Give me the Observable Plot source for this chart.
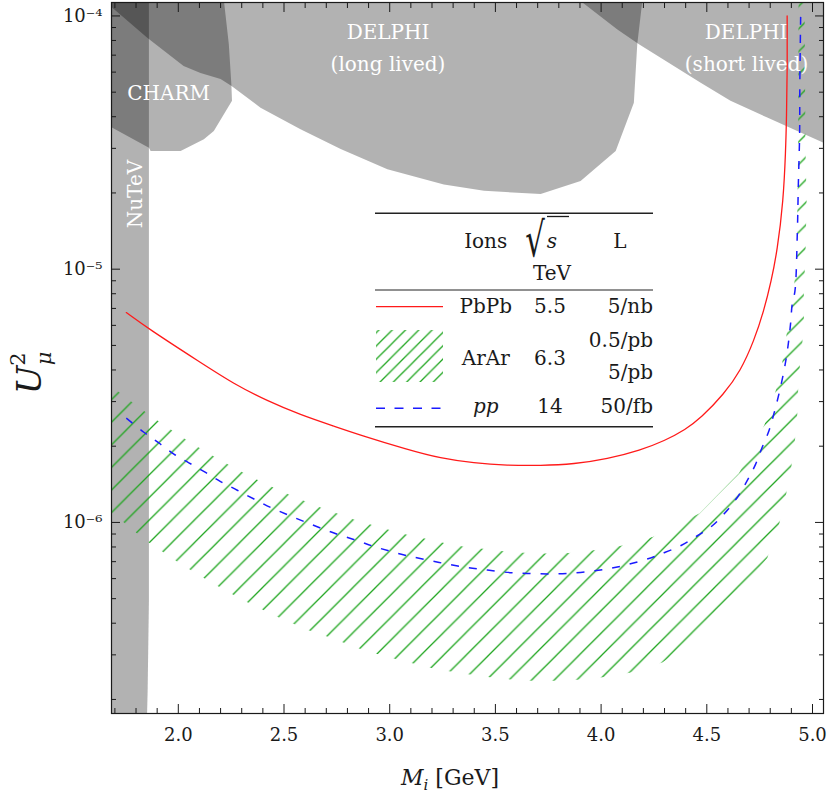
<!DOCTYPE html>
<html><head><meta charset="utf-8">
<script src="https://cdn.jsdelivr.net/npm/d3@7"></script>
<script src="https://cdn.jsdelivr.net/npm/@observablehq/plot@0.6"></script>
<style>
body{margin:0;background:#fff;}
#chart{width:830px;height:796px;}
</style></head><body><div id="chart"></div>
<script>
// ---------- data ----------
// PbPb, 5.5 TeV, 5/nb  (red solid)
const pbpbMass = [1.754,1.861,2.105,2.263,2.421,2.578,2.736,2.862,3.083,3.241,3.398,3.556,3.714,3.872,4.029,4.187,4.300,4.400,4.471,4.581,4.660,4.723,4.770,4.805,4.833,4.862,4.873,4.877,4.881,4.880];
const pbpbU2 = [6.74e-6,5.80e-6,4.28e-6,3.52e-6,3.02e-6,2.66e-6,2.40e-6,2.21e-6,1.94e-6,1.79e-6,1.715e-6,1.68e-6,1.676e-6,1.70e-6,1.78e-6,1.93e-6,2.10e-6,2.33e-6,2.58e-6,3.21e-6,3.97e-6,5.21e-6,6.85e-6,8.99e-6,1.18e-5,1.86e-5,2.93e-5,3.96e-5,6.25e-5,1.0e-4];

// pp, 14 TeV, 50/fb (blue dashed)
const ppMass = [1.754,1.837,1.908,1.979,2.050,2.129,2.200,2.279,2.358,2.437,2.516,2.594,2.673,2.760,2.847,2.925,3.004,3.083,3.178,3.272,3.367,3.462,3.556,3.651,3.745,3.840,3.935,4.029,4.124,4.234,4.281,4.376,4.455,4.526,4.581,4.644,4.691,4.731,4.762,4.794,4.817,4.841,4.865,4.881,4.896,4.904,4.917,4.928,4.933,4.939,4.940,4.944];
const ppU2 = [2.58e-6,2.27e-6,2.06e-6,1.86e-6,1.72e-6,1.575e-6,1.45e-6,1.34e-6,1.237e-6,1.146e-6,1.073e-6,1.009e-6,9.5e-7,8.94e-7,8.47e-7,8.04e-7,7.69e-7,7.39e-7,7.11e-7,6.85e-7,6.64e-7,6.49e-7,6.35e-7,6.29e-7,6.26e-7,6.29e-7,6.39e-7,6.55e-7,6.81e-7,7.24e-7,7.50e-7,8.09e-7,8.86e-7,9.70e-7,1.079e-6,1.255e-6,1.461e-6,1.70e-6,1.98e-6,2.30e-6,2.68e-6,3.21e-6,3.97e-6,4.76e-6,6.07e-6,7.28e-6,8.21e-6,1.375e-5,2.16e-5,3.41e-5,5.37e-5,1.0e-4];

// ArAr, 6.3 TeV band: 0.5/pb (upper edge) and 5/pb (lower edge)
const arUpperMass = [1.684,1.722,1.782,1.843,1.907,1.971,2.034,2.101,2.169,2.236,2.306,2.376,2.449,2.523,2.597,2.673,2.752,2.831,2.913,2.996,3.078,3.165,3.253,3.346,3.441,3.537,3.635,3.736,3.848,3.966,4.095,4.244,4.466,4.652,4.773,4.825,4.857,4.876,4.900,4.915,4.925,4.929,4.932,4.934];
const arUpperU2 = [3.45e-6,3.26e-6,2.98e-6,2.735e-6,2.51e-6,2.305e-6,2.13e-6,1.968e-6,1.822e-6,1.692e-6,1.575e-6,1.47e-6,1.374e-6,1.29e-6,1.215e-6,1.146e-6,1.085e-6,1.028e-6,9.79e-7,9.36e-7,8.97e-7,8.65e-7,8.32e-7,8.04e-7,7.87e-7,7.69e-7,7.59e-7,7.54e-7,7.58e-7,7.76e-7,8.09e-7,8.75e-7,1.087e-6,1.564e-6,2.43e-6,3.29e-6,4.28e-6,5.45e-6,7.10e-6,8.99e-6,1.18e-5,1.86e-5,2.93e-5,1.2e-4];
const arLowerMass = [4.962,4.967,4.972,4.967,4.959,4.959,4.952,4.940,4.932,4.928,4.917,4.900,4.876,4.843,4.786,4.660,4.518,4.376,4.289,4.136,4.006,3.887,3.777,3.670,3.572,3.474,3.379,3.288,3.197,3.112,3.028,2.941,2.862,2.780,2.697,2.616,2.547,2.473,2.402,2.329,2.260,2.192,2.124,2.058,1.992,1.929,1.864,1.804,1.744,1.684];
const arLowerU2 = [1.2e-4,2.93e-5,1.86e-5,1.18e-5,7.99e-6,6.37e-6,5.12e-6,4.15e-6,3.31e-6,2.68e-6,2.11e-6,1.66e-6,1.30e-6,9.91e-7,7.24e-7,5.37e-7,3.91e-7,3.12e-7,2.80e-7,2.55e-7,2.445e-7,2.39e-7,2.37e-7,2.37e-7,2.40e-7,2.445e-7,2.51e-7,2.58e-7,2.66e-7,2.77e-7,2.89e-7,3.02e-7,3.165e-7,3.36e-7,3.56e-7,3.75e-7,3.97e-7,4.22e-7,4.51e-7,4.83e-7,5.18e-7,5.57e-7,6.01e-7,6.49e-7,7.02e-7,7.63e-7,8.29e-7,9.07e-7,9.97e-7,1.092e-6];

// excluded regions (outlines)
const nutevMass = [1.60,1.60,1.861,1.861,1.855,1.845];
const nutevU2 = [1.0e-7,2.0e-4,2.0e-4,4.91e-7,2.17e-7,1.0e-7];
const charmMass = [1.60,2.18,2.216,2.239,2.251,2.254,2.168,2.121,2.011,1.869,1.861,1.688,1.60];
const charmU2 = [2.0e-4,2.0e-4,1.145e-4,7.73e-5,5.37e-5,4.62e-5,3.51e-5,3.26e-5,2.93e-5,2.93e-5,3.02e-5,3.62e-5,3.97e-5];
const delphiLongMass = [1.60,1.632,1.688,1.853,2.025,2.105,2.200,2.252,2.389,2.578,2.768,2.989,3.256,3.446,3.714,3.903,4.069,4.155,4.171,4.195,4.20];
const delphiLongU2 = [1.3e-4,1.18e-4,1.077e-4,8.20e-5,6.34e-5,5.95e-5,5.63e-5,5.29e-5,4.34e-5,3.57e-5,2.98e-5,2.48e-5,2.16e-5,2.04e-5,1.98e-5,2.23e-5,2.93e-5,4.54e-5,7.73e-5,1.145e-4,1.3e-4];
const delphiShortMass = [3.842,4.077,4.179,4.471,4.612,4.786,4.928,5.052,5.10,5.10];
const delphiShortU2 = [1.253e-4,8.85e-5,7.73e-5,5.45e-5,4.62e-5,3.97e-5,3.51e-5,3.16e-5,3.0e-5,1.3e-4];

// region labels
const labelText = ["DELPHI","(long lived)","DELPHI","(short lived)","CHARM"];
const labelMass = [2.992,2.992,4.686,4.688,1.954];
const labelU2 = [8.6e-5,6.45e-5,8.6e-5,6.45e-5,4.94e-5];
const nutevLabel = {text:"NuTeV", m:1.798, u:1.98e-5};

// axes
const xMajor = [2.0,2.5,3.0,3.5,4.0,4.5,5.0];
const xMinor = [1.7,1.8,1.9,2.1,2.2,2.3,2.4,2.6,2.7,2.8,2.9,3.1,3.2,3.3,3.4,3.6,3.7,3.8,3.9,4.1,4.2,4.3,4.4,4.6,4.7,4.8,4.9];
const yMajor = [1e-6,1e-5,1e-4];
const yMajorText = ["10\u207B\u2076","10\u207B\u2075","10\u207B\u2074"];
const yMinor = [2e-7,3e-7,4e-7,5e-7,6e-7,7e-7,8e-7,9e-7,2e-6,3e-6,4e-6,5e-6,6e-6,7e-6,8e-6,9e-6,2e-5,3e-5,4e-5,5e-5,6e-5,7e-5,8e-5,9e-5];

// legend table
const legIons = ["PbPb","ArAr","pp"];
const legSqrtS = ["5.5","6.3","14"];
const legLumi = [["5/nb"],["0.5/pb","5/pb"],["50/fb"]];

// ---------- tables ----------
const zip = (ms, us) => ms.map((m, i) => ({m, u: us[i]}));
const pbpb = zip(pbpbMass, pbpbU2);
const pp = zip(ppMass, ppU2);
const arBand = zip(arUpperMass.concat(arLowerMass), arUpperU2.concat(arLowerU2));
const nutev = zip(nutevMass, nutevU2);
const charm = zip(charmMass, charmU2);
const delphiLong = zip(delphiLongMass, delphiLongU2);
const delphiShort = zip(delphiShortMass, delphiShortU2);
const labels = labelText.map((t, i) => ({text: t, m: labelMass[i], u: labelU2[i]}));

const FONT = '"DejaVu Serif", serif';
const INK = "#1a1a1a";
const RED = "#ff1a1a", BLUE = "#1a1aff", GREEN = "#1ea51e";
const region = (data) => Plot.line(data, {x: "m", y: "u", fill: "black", fillOpacity: 0.3, stroke: "none", clip: true, curve: "linear"});

const svgEl = Plot.plot({
  width: 830, height: 796,
  marginLeft: 111, marginRight: 7, marginTop: 2, marginBottom: 83,
  style: {fontFamily: FONT, fontSize: "18px", color: INK, background: "white"},
  x: {domain: [1.684, 5.052]},
  y: {type: "log", domain: [1.76e-7, 1.13e-4]},
  marks: [
    region(nutev), region(charm), region(delphiLong), region(delphiShort),
    Plot.line(arBand, {x: "m", y: "u", fill: "url(#hatch)", stroke: "none", clip: true}),
    Plot.line(pbpb, {x: "m", y: "u", stroke: RED, strokeWidth: 1.3, curve: "basis", clip: true}),
    Plot.line(pp, {x: "m", y: "u", stroke: BLUE, strokeWidth: 1.5, strokeDasharray: "8,10", strokeLinecap: "butt", curve: "catmull-rom", clip: true}),
    Plot.text(labels, {x: "m", y: "u", text: "text", fill: "white", fontSize: 20, fontFamily: FONT}),
    Plot.text([nutevLabel], {x: "m", y: "u", text: "text", fill: "white", fontSize: 20, rotate: -90, fontFamily: FONT}),
    Plot.frame({stroke: INK, strokeWidth: 1.2}),
    // inward ticks on all four sides
    Plot.axisX({anchor: "bottom", ticks: xMajor, tickSize: 9, dy: -9, fill: "none", label: null, stroke: INK}),
    Plot.axisX({anchor: "bottom", ticks: xMinor, tickSize: 5, dy: -5, fill: "none", label: null, stroke: INK}),
    Plot.axisX({anchor: "top", ticks: xMajor, tickSize: 9, dy: 9, fill: "none", label: null, stroke: INK}),
    Plot.axisX({anchor: "top", ticks: xMinor, tickSize: 5, dy: 5, fill: "none", label: null, stroke: INK}),
    Plot.axisY({anchor: "left", ticks: yMajor, tickSize: 9, dx: 9, fill: "none", label: null, stroke: INK}),
    Plot.axisY({anchor: "left", ticks: yMinor, tickSize: 5, dx: 5, fill: "none", label: null, stroke: INK}),
    Plot.axisY({anchor: "right", ticks: yMajor, tickSize: 9, dx: -9, fill: "none", label: null, stroke: INK}),
    Plot.axisY({anchor: "right", ticks: yMinor, tickSize: 5, dx: -5, fill: "none", label: null, stroke: INK}),
    // tick labels
    Plot.axisX({anchor: "bottom", ticks: xMajor, tickSize: 0, tickPadding: 15, tickFormat: d => d.toFixed(1), fontSize: 18, label: null, fill: INK}),
    Plot.axisY({anchor: "left", ticks: yMajor, tickSize: 0, tickPadding: 9, tickFormat: d => yMajorText[yMajor.indexOf(d)], fontSize: 18, label: null, fill: INK})
  ]
});
document.getElementById("chart").appendChild(svgEl);

const svg = d3.select(svgEl);
const defs = svg.insert("defs", ":first-child");
const hatch = defs.append("pattern").attr("id", "hatch").attr("patternUnits", "userSpaceOnUse")
  .attr("width", 22.6).attr("height", 22.6).attr("patternTransform", "translate(12.9,0)");
hatch.append("path").attr("d", "M-2,2L2,-2M0,22.6L22.6,0M20.6,24.6L24.6,20.6")
  .attr("stroke", GREEN).attr("stroke-width", 1.3).attr("fill", "none");
const hatch2 = defs.append("pattern").attr("id", "hatch2").attr("patternUnits", "userSpaceOnUse")
  .attr("width", 13.3).attr("height", 13.3).attr("patternTransform", "translate(4,0)");
hatch2.append("path").attr("d", "M-2,2L2,-2M0,13.3L13.3,0M11.3,15.3L15.3,11.3")
  .attr("stroke", GREEN).attr("stroke-width", 1.3).attr("fill", "none");

// axis titles
const xl = svg.append("text").attr("x", 450).attr("y", 785).attr("text-anchor", "middle")
  .attr("font-family", FONT).attr("font-size", 22).attr("fill", INK);
xl.append("tspan").attr("font-style", "italic").text("M");
xl.append("tspan").attr("font-style", "italic").attr("font-size", 15).attr("dy", 5).text("i");
xl.append("tspan").attr("dy", -5).text(" [GeV]");

const yl = svg.append("text").attr("transform", "translate(41,373) rotate(-90)")
  .attr("font-family", FONT).attr("font-size", 34).attr("fill", INK);
yl.append("tspan").attr("font-style", "italic").text("U");
yl.append("tspan").attr("font-size", 21).attr("dy", -16).text("2");
yl.append("tspan").attr("font-size", 21).attr("font-style", "italic").attr("dx", -13).attr("dy", 26).text("\u03BC");

// legend table
const lg = svg.append("g").attr("font-family", FONT).attr("font-size", 20).attr("fill", INK);
const rule = (y, w) => lg.append("line").attr("x1", 375).attr("x2", 653).attr("y1", y).attr("y2", y)
  .attr("stroke", "#222").attr("stroke-width", w);
rule(213.3, 1.5); rule(290, 1); rule(426.7, 1.5);
lg.append("text").attr("x", 485.7).attr("y", 248).attr("text-anchor", "middle").text("Ions");
lg.append("text").attr("x", 620).attr("y", 248).attr("text-anchor", "middle").text("L");
lg.append("text").attr("transform", "translate(535,256) scale(1.1,1.7)").attr("font-size", 28).text("\u221A");
lg.append("text").attr("x", 552).attr("y", 248).attr("font-style", "italic").text("s");
lg.append("line").attr("x1", 547).attr("x2", 569).attr("y1", 216.5).attr("y2", 216.5).attr("stroke", INK).attr("stroke-width", 1.3);
lg.append("text").attr("x", 552).attr("y", 280).attr("text-anchor", "middle").text("TeV");
const rowY = [313, 365, 413];
legIons.forEach((t, i) => {
  const tx = lg.append("text").attr("x", 485.7).attr("y", rowY[i]).attr("text-anchor", "middle").text(t);
  if (t === "pp") tx.attr("font-style", "italic");
  lg.append("text").attr("x", 550).attr("y", rowY[i]).attr("text-anchor", "middle").text(legSqrtS[i]);
});
lg.append("text").attr("x", 653).attr("y", 313).attr("text-anchor", "end").text(legLumi[0][0]);
lg.append("text").attr("x", 653).attr("y", 347).attr("text-anchor", "end").text(legLumi[1][0]);
lg.append("text").attr("x", 653).attr("y", 379).attr("text-anchor", "end").text(legLumi[1][1]);
lg.append("text").attr("x", 653).attr("y", 413).attr("text-anchor", "end").text(legLumi[2][0]);
lg.append("line").attr("x1", 376).attr("x2", 443).attr("y1", 306.7).attr("y2", 306.7).attr("stroke", RED).attr("stroke-width", 1.3);
lg.append("rect").attr("x", 376).attr("y", 330).attr("width", 67).attr("height", 52).attr("fill", "url(#hatch2)");
lg.append("line").attr("x1", 376).attr("x2", 443).attr("y1", 408.3).attr("y2", 408.3).attr("stroke", BLUE).attr("stroke-width", 1.5).attr("stroke-dasharray", "9,9.5");
</script></body></html>
